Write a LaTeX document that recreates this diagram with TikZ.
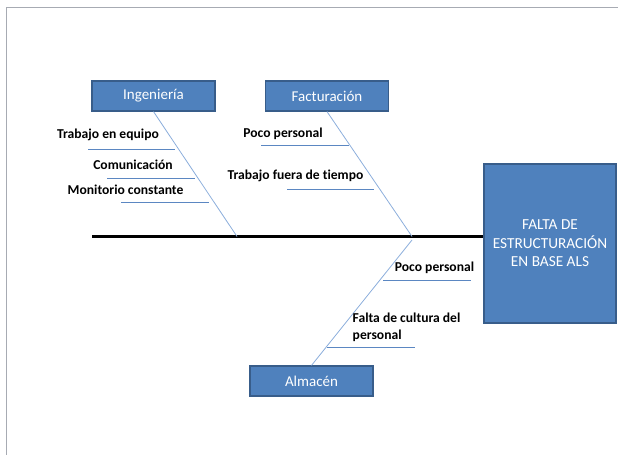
\documentclass[tikz,border=0pt]{standalone}
\usepackage{fontspec}
\setmainfont[Ligatures=NoCommon]{Carlito}
\begin{document}
\begin{tikzpicture}[x=1pt,y=-1pt,
  box/.style={draw=boxedge,fill=boxblue,line width=1.2pt,text=white,
    minimum width=123pt,minimum height=30pt,inner sep=0pt,font=\fontsize{15}{17}\selectfont},
  effect/.style={draw=boxedge,fill=boxblue,line width=1.2pt,text=white,
    minimum width=132pt,minimum height=159pt,inner sep=0pt,align=center,
    font=\fontsize{15.3}{18.5}\selectfont},
  bone/.style={draw=bonecol,line width=0.8pt},
  sub/.style={draw=subcol,line width=0.9pt},
  lbl/.style={inner sep=0pt,font=\bfseries\fontsize{13.6}{17}\selectfont},
  spine/.style={draw=black,line width=3pt}]
\definecolor{boxblue}{HTML}{4F81BD}
\definecolor{boxedge}{HTML}{385D8A}
\definecolor{bonecol}{HTML}{8CAEDC}
\definecolor{subcol}{HTML}{5B87C2}
\definecolor{framecol}{HTML}{A7ABB3}
\useasboundingbox (0,0) rectangle (618,455);
% page frame
\draw[framecol,line width=1pt] (618,7) -- (6,7) -- (6,455);

% category boxes and the effect
\node[box] (ing) at (153.5,96) {Ingeniería};
\node[box] (fac) at (327,96) {Facturación};
\node[box] (alm) at (311.5,381) {Almacén};
\node[effect] (eff) at (550,243.5) {FALTA DE\\ESTRUCTURACIÓN\\EN BASE ALS};

% spine
\coordinate (tail) at (92,236.5);
\draw[spine] (tail) -- (tail -| eff.west);

% main bones
\coordinate (j1) at (237,236.5);
\coordinate (j2) at (412,236.5);
\coordinate (j3) at (412,240);
\draw[bone] (ing.south) -- (j1);
\draw[bone] (fac.south) -- (j2);
\draw[bone] (alm.north) -- (j3);

% causes: Ingeniería
\coordinate (a1) at (88,149.5);  \coordinate (a1e) at (175,149.5);
\coordinate (a2) at (107,178);   \coordinate (a2e) at (195,178);
\coordinate (a3) at (121,202.5); \coordinate (a3e) at (209,202.5);
\draw[sub] (a1) -- (a1e);
\draw[sub] (a2) -- (a2e);
\draw[sub] (a3) -- (a3e);
\node[lbl] (t1) at (108,135) {Trabajo en equipo};
\node[lbl] (t2) at (133,165) {Comunicación};
\node[lbl] (t3) at (125.5,190) {Monitorio constante};

% causes: Facturación
\coordinate (b1) at (261,145);  \coordinate (b1e) at (349,145);
\coordinate (b2) at (287,189);  \coordinate (b2e) at (374,189);
\draw[sub] (b1) -- (b1e);
\draw[sub] (b2) -- (b2e);
\node[lbl] (u1) at (283,134) {Poco personal};
\node[lbl] (u2) at (295.5,176) {Trabajo fuera de tiempo};

% causes: Almacén
\coordinate (c1) at (383,280);  \coordinate (c1e) at (471,280);
\coordinate (c2) at (327,347);  \coordinate (c2e) at (415,347);
\draw[sub] (c1) -- (c1e);
\draw[sub] (c2) -- (c2e);
\node[lbl] (v1) at (434.5,268) {Poco personal};
\node[lbl,anchor=west,align=left] (v2) at (352.5,327.5) {Falta de cultura del\\personal};
\end{tikzpicture}
\end{document}
